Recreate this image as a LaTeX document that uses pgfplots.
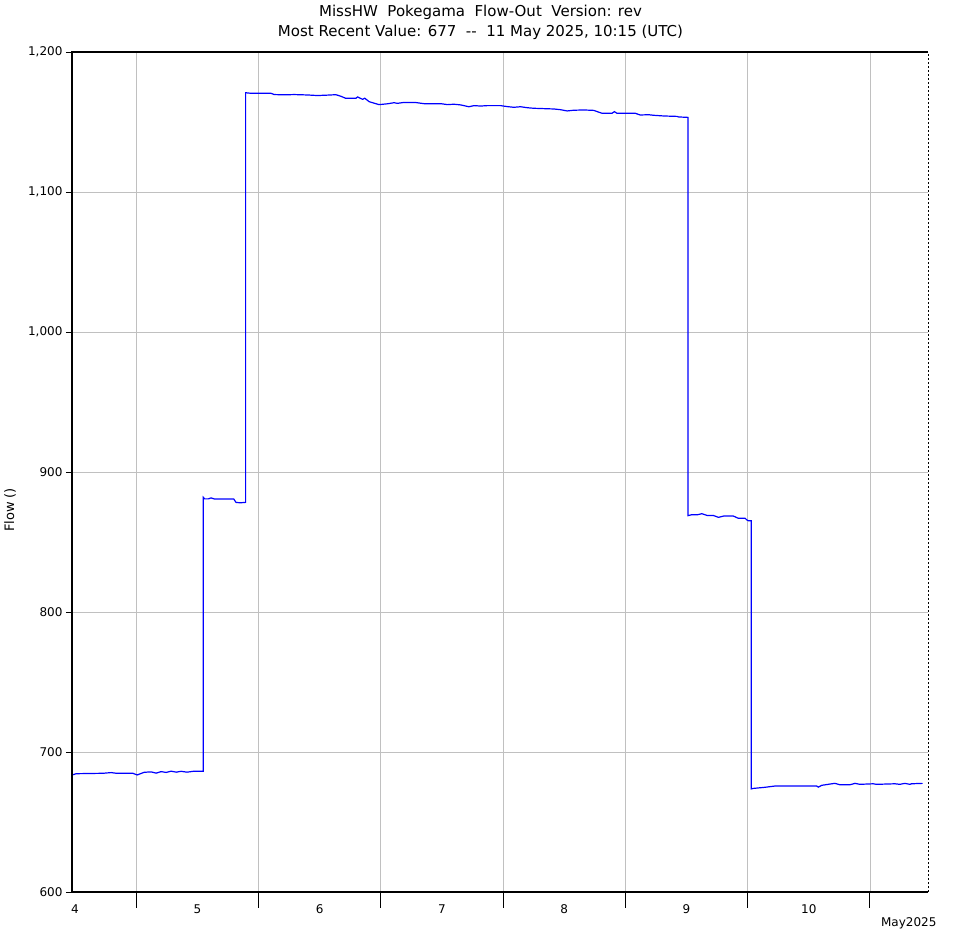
\documentclass[border=0pt]{standalone}
\usepackage{fontspec}
\setmainfont{DejaVu Sans}
\usepackage{pgfplots}
\pgfplotsset{compat=1.18}
\begin{document}
\begin{tikzpicture}[x=1pt,y=1pt]
  \path[use as bounding box] (0,0) rectangle (961,940);
  \definecolor{gridgray}{RGB}{192,192,192}
  \begin{axis}[
      at={(72pt,48pt)}, anchor=south west,
      scale only axis, width=856pt, height=840pt,
      xmin=4.475, xmax=11.475, ymin=600, ymax=1200,
      axis line style={draw=none},
      xtick={4.5,5.5,...,10.5},
      xticklabels={4,5,6,7,8,9,10},
      x tick style={draw=none},
      x tick label style={yshift=-3pt},
      extra x ticks={5,6,7,8,9,10,11},
      extra x tick labels={},
      extra x tick style={grid=major},
      ytick={600,700,...,1200},
      yticklabels={600,700,800,900,{1,000},{1,100},{1,200}},
      ymajorgrids,
      xtick pos=bottom, ytick pos=left,
      tick align=outside, major tick length=6pt,
      y tick style={black, line width=0.9pt},
      grid style={gridgray, line width=0.8pt},
      tick label style={font=\fontsize{12}{14}\selectfont},
      clip=false,
    ]
    \addplot[blue, line width=1.2pt] coordinates {
      (4.483,683.8) (4.510,684.5) (4.728,684.8) (4.796,685.3) (4.837,684.8)
      (4.973,684.8) (5.008,683.6) (5.065,685.5) (5.122,685.8) (5.163,684.9)
      (5.204,686.0) (5.245,685.4) (5.286,686.3) (5.327,685.6) (5.367,686.2)
      (5.416,685.6) (5.465,686.2) (5.549,686.2)
      (5.549,881.9) (5.560,880.8) (5.590,880.8) (5.612,881.5) (5.640,880.7)
      (5.798,880.7) (5.816,878.3) (5.849,878.0) (5.895,878.3)
      (5.895,1170.9) (5.939,1170.5) (6.102,1170.5) (6.129,1169.6) (6.211,1169.4)
      (6.292,1169.6) (6.401,1169.3) (6.483,1168.9) (6.565,1169.2) (6.633,1169.5)
      (6.673,1168.4) (6.714,1166.9) (6.796,1166.9) (6.810,1167.9) (6.851,1166.2)
      (6.869,1167.0) (6.905,1164.5) (6.986,1162.4) (7.055,1163.0) (7.109,1163.8)
      (7.136,1163.3) (7.190,1164.0) (7.286,1163.9) (7.353,1163.1) (7.490,1163.1)
      (7.545,1162.4) (7.598,1162.7) (7.653,1162.2) (7.721,1160.9) (7.762,1161.7)
      (7.816,1161.4) (7.871,1161.7) (7.980,1161.7) (8.034,1161.0) (8.088,1160.5)
      (8.143,1160.9) (8.198,1160.2) (8.251,1159.8) (8.415,1159.3) (8.469,1158.8)
      (8.524,1157.9) (8.578,1158.4) (8.660,1158.6) (8.741,1158.3) (8.810,1156.2)
      (8.891,1156.2) (8.910,1157.4) (8.932,1156.2) (9.082,1156.2) (9.122,1155.0)
      (9.190,1155.2) (9.231,1154.8) (9.313,1154.3) (9.422,1154.0) (9.435,1153.6)
      (9.512,1153.3)
      (9.512,868.8) (9.544,869.5) (9.585,869.4) (9.626,870.2) (9.667,869.0)
      (9.721,868.9) (9.762,867.6) (9.802,868.5) (9.884,868.5) (9.925,866.9)
      (9.980,866.9) (9.993,865.8) (10.007,865.2) (10.029,865.2)
      (10.029,673.6) (10.047,674.0) (10.143,674.8) (10.224,675.7) (10.565,675.7)
      (10.578,674.9) (10.606,676.2) (10.673,677.1) (10.714,677.6) (10.755,676.6)
      (10.837,676.6) (10.878,677.6) (10.918,676.9) (11.027,677.3) (11.055,676.9)
      (11.204,677.3) (11.245,676.9) (11.286,677.6) (11.327,676.9) (11.340,677.3)
      (11.430,677.6)
    };
    % frame
    \draw[black, line width=1.2pt] (rel axis cs:1,1) -- (rel axis cs:0,1)
      -- (rel axis cs:0,0) -- (rel axis cs:1,0);
    \draw[black, line width=1pt, dash pattern=on 2pt off 2pt]
      (rel axis cs:1,0) -- (rel axis cs:1,1);
    % day separator ticks
    \pgfplotsinvokeforeach{5,6,7,8,9,10,11}{
      \draw[black, line width=0.9pt] (axis cs:#1,600) -- ([yshift=-16pt]axis cs:#1,600);
    }
    \node[anchor=east, font=\fontsize{12}{14}\selectfont]
      at (rel axis cs:1,0) [xshift=12pt, yshift=-31pt] {May2025};
  \end{axis}
  \node[rotate=90, font=\fontsize{13}{15}\selectfont] at (10,430) {Flow ()};
  \node[font=\fontsize{15}{18}\selectfont] at (480.5,928)
    {MissHW\ \ Pokegama\ \ Flow-Out\ \ Version: rev};
  \node[font=\fontsize{15}{18}\selectfont] at (480.5,908)
    {Most Recent Value: 677\ \ {-}{-}\ \ 11 May 2025, 10:15 (UTC)};
\end{tikzpicture}
\end{document}
